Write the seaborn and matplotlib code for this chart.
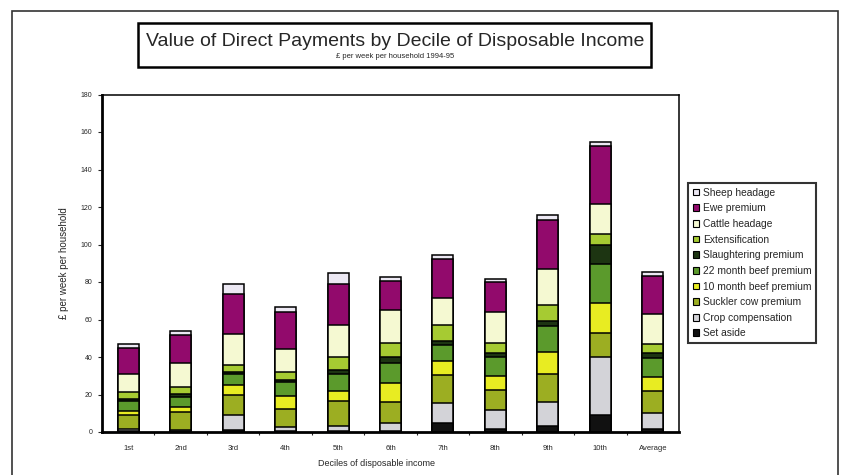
import matplotlib
matplotlib.use("Agg")
import matplotlib.pyplot as plt
from matplotlib.patches import Patch, Rectangle
import numpy as np
import pandas as pd
import seaborn as sns

# Deciles of disposable income (plus the overall average)
deciles = ["1st", "2nd", "3rd", "4th", "5th", "6th", "7th", "8th", "9th", "10th", "Average"]

# £ per week per household, 1994-95, by payment scheme (listed bottom to top of each bar)
set_aside         = [0.6, 0.4, 1.0, 0.5, 0.5, 0.5, 5.0, 1.5, 3.0, 9.3, 1.5]
crop_compensation = [1.2, 0.8, 8.2, 2.0, 2.7, 4.5, 10.5, 10.0, 13.2, 30.7, 8.5]
suckler_cow       = [7.1, 9.7, 10.7, 10.0, 13.3, 11.2, 14.7, 11.0, 14.6, 12.8, 11.9]
beef_10_month     = [2.3, 2.4, 5.3, 6.5, 5.5, 10.0, 7.6, 7.3, 11.8, 16.2, 7.6]
beef_22_month     = [5.4, 5.6, 5.8, 7.5, 9.2, 10.8, 8.7, 10.2, 14.1, 20.5, 9.9]
slaughtering      = [0.9, 1.6, 1.0, 1.5, 1.8, 3.2, 2.0, 2.4, 2.7, 10.0, 2.8]
extensification   = [3.7, 3.5, 4.0, 4.0, 6.8, 7.2, 8.8, 5.2, 8.6, 6.0, 5.0]
cattle_headage    = [9.8, 12.8, 16.3, 12.3, 17.2, 17.9, 14.2, 16.2, 19.0, 16.0, 16.0]
ewe_premium       = [14.0, 14.7, 21.2, 19.7, 22.0, 15.0, 20.7, 16.2, 26.0, 31.0, 19.8]
sheep_headage     = [2.0, 2.2, 5.5, 2.8, 5.8, 2.4, 2.0, 1.8, 2.5, 2.3, 2.5]

schemes = ["Set aside", "Crop compensation", "Suckler cow premium",
           "10 month beef premium", "22 month beef premium", "Slaughtering premium",
           "Extensification", "Cattle headage", "Ewe premium", "Sheep headage"]
values = [set_aside, crop_compensation, suckler_cow, beef_10_month, beef_22_month,
          slaughtering, extensification, cattle_headage, ewe_premium, sheep_headage]
colors = ["#111111", "#d3d3d8", "#9cae22", "#e8ec22", "#5b9a2c",
          "#1d3512", "#a6cb32", "#f5f9d2", "#920a6c", "#ece8f3"]

# cumulative tops for stacking
df = pd.DataFrame({s: v for s, v in zip(schemes, values)}, index=deciles)
cum = df.cumsum(axis=1)

sns.set_style("white")
plt.rcParams["font.family"] = ["Liberation Sans", "DejaVu Sans"]

fig = plt.figure(figsize=(8.46, 4.75), dpi=100)
W, H = 846, 475
ax = fig.add_axes([102 / W, 1 - 432 / H, (679 - 102) / W, (432 - 94.5) / H])

# draw from the tallest cumulative layer down so each layer sits on the one below
for scheme, col in reversed(list(zip(schemes, colors))):
    sns.barplot(x=deciles, y=cum[scheme].values, order=deciles, color=col,
                saturation=1, width=0.4, edgecolor="black", linewidth=1.1,
                errorbar=None, ax=ax)

ax.set_ylim(0, 180)
ax.set_xlim(-0.5, len(deciles) - 0.5)
ax.set_yticks(np.arange(0, 181, 20))
ax.tick_params(axis="y", direction="out", length=3, width=0.8, labelsize=5, pad=4, left=True)
ax.tick_params(axis="x", which="major", length=0, labelsize=5.5, pad=9)
ax.set_xticks(np.arange(len(deciles) - 1) + 0.5, minor=True)
ax.tick_params(axis="x", which="minor", direction="out", length=2, width=0.8, bottom=True)
ax.set_xlabel("")
ax.set_ylabel("£ per week per household", fontsize=7, labelpad=8)
for side in ["left", "bottom"]:
    ax.spines[side].set_linewidth(2.0)
for side in ["top", "right"]:
    ax.spines[side].set_linewidth(1.1)
for sp in ax.spines.values():
    sp.set_color("black")
    sp.set_visible(True)

fig.text(376 / W, 1 - 463 / H, "Deciles of disposable income", fontsize=6.5,
         ha="center", va="center")

# title box
fig.patches.append(Rectangle((138 / W, 1 - 67 / H), (651 - 138) / W, (67 - 23) / H,
                             transform=fig.transFigure, fill=False, lw=1.8, ec="black"))
fig.text(395 / W, 1 - 41 / H, "Value of Direct Payments by Decile of Disposable Income",
         fontsize=14, ha="center", va="center")
fig.text(395 / W, 1 - 57 / H, "£ per week per household 1994-95", fontsize=5.5,
         ha="center", va="center")

# outer frame
fig.patches.append(Rectangle((12 / W, -0.05), (838 - 12) / W, 1.05 - 11 / H,
                             transform=fig.transFigure, fill=False, lw=1.2, ec="#333333"))

# legend, top entry first
handles = [Patch(facecolor=c, edgecolor="black", linewidth=0.8, label=s)
           for s, c in reversed(list(zip(schemes, colors)))]
leg = fig.legend(handles=handles, loc="upper left",
                 bbox_to_anchor=(688 / W, 1 - 183 / H), fontsize=7.4,
                 frameon=True, fancybox=False, edgecolor="black",
                 handlelength=0.65, handleheight=0.65, handletextpad=0.35,
                 labelspacing=0.55, borderpad=0.45, borderaxespad=0)
leg.get_frame().set_linewidth(1.5)

fig.savefig("out.png", dpi=100)
